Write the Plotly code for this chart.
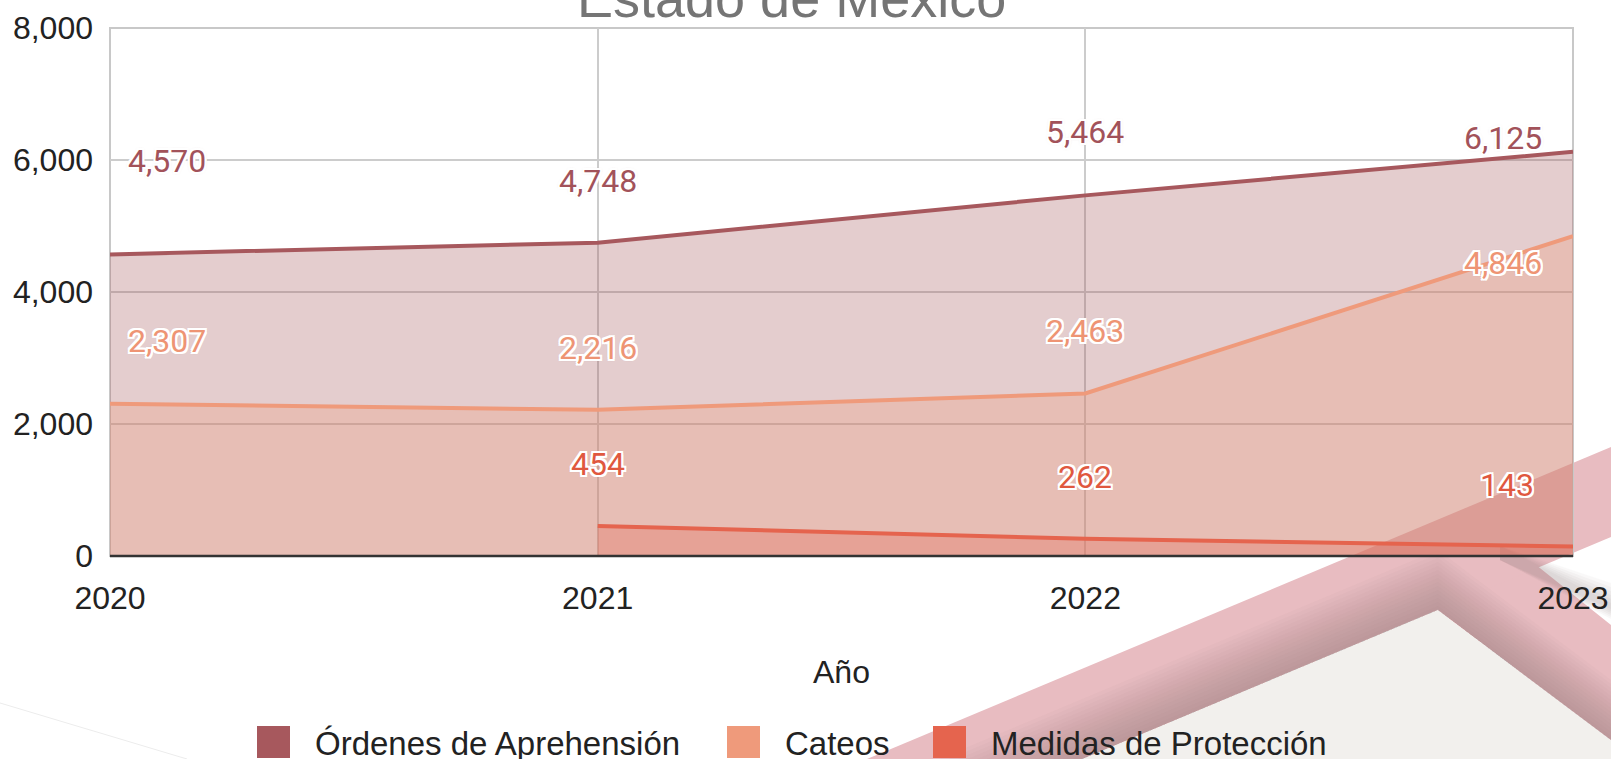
import plotly.graph_objects as go

# ---- data -------------------------------------------------------------
years = [2020, 2021, 2022, 2023]
ordenes = [4570, 4748, 5464, 6125]
cateos = [2307, 2216, 2463, 4846]
medidas = [None, 454, 262, 143]

series_names = ["Órdenes de Aprehensión", "Cateos", "Medidas de Protección"]
series_values = [ordenes, cateos, medidas]
y_ticks = [0, 2000, 4000, 6000, 8000]

# ---- styling ----------------------------------------------------------
line_colors = ["#a7585d", "#ef9a7b", "#e5644e"]
fill_colors = ["rgba(167,88,93,0.30)", "rgba(239,154,123,0.30)", "rgba(229,100,78,0.30)"]
label_colors = ["#a2525a", "#ee9474", "#e0583f"]

# label offsets in screen pixels (x right, y up) per series / year
label_dx = [[57, 0, 0, -70], [57, 0, 0, -70], [0, 0, 0, -66]]
label_dy = [[93, 62, 63, 14], [63, 62, 62, -27], [0, 62, 62, 62]]

AXIS_FONT = "Liberation Sans, Arial, sans-serif"
LABEL_FONT = "Roboto, Arial, sans-serif"
HALO = ("2px 0 0 #fff, -2px 0 0 #fff, 0 2px 0 #fff, 0 -2px 0 #fff, "
        "2px 2px 0 #fff, -2px -2px 0 #fff, 2px -2px 0 #fff, -2px 2px 0 #fff, "
        "0 0 3px rgba(120,60,60,0.6)")

# plot area in pixels
W, H = 1611, 759
L, R, T, B = 110, 1573, 28, 556


def px(x):
    return (x - L) / (R - L)


def py(y):
    return (B - y) / (B - T)


def poly(points):
    return "M " + " L ".join(f"{px(x):.5f},{py(y):.5f}" for x, y in points) + " Z"


fig = go.Figure()

for name, vals, lc, fc in zip(series_names, series_values, line_colors, fill_colors):
    fig.add_trace(go.Scatter(
        x=years, y=vals, name=name, mode="lines",
        line=dict(color=lc, width=4),
        fill="tozeroy", fillcolor=fc,
        showlegend=False, hoverinfo="skip",
    ))

annotations = []
# value labels
for vals, col, dxs, dys in zip(series_values, label_colors, label_dx, label_dy):
    for x, v, dx, dy in zip(years, vals, dxs, dys):
        if v is None:
            continue
        annotations.append(dict(
            x=x, y=v, xref="x", yref="y", text=f"{v:,}", showarrow=False,
            xshift=dx, yshift=dy,
            font=dict(family=LABEL_FONT, size=32, color=col, shadow=HALO),
        ))

# title (partially above the page)
annotations.append(dict(
    x=px(791), y=py(-2), xref="paper", yref="paper", text="Estado de México",
    showarrow=False, xanchor="center", yanchor="middle",
    font=dict(family=AXIS_FONT, size=54, color="#757575"),
))
# x axis title
annotations.append(dict(
    x=0.5, y=py(672), xref="paper", yref="paper", text="Año",
    showarrow=False, xanchor="center", yanchor="middle",
    font=dict(family=AXIS_FONT, size=32, color="#222222"),
))

# legend
legend_swatch_x = [257, 727, 933]
for name, col, sx in zip(series_names, line_colors, legend_swatch_x):
    annotations.append(dict(
        x=px(sx + 56), y=py(743), xref="paper", yref="paper", text=name,
        showarrow=False, xanchor="left", yanchor="middle",
        font=dict(family=AXIS_FONT, size=33, color="#222222"),
    ))

shapes = []
# decorative background bands
pink = "#e8bcc1"
SLOPE = 0.4194
shapes.append(dict(type="path", xref="paper", yref="paper", layer="below",
                   path=poly([(1082, 759), (1438, 610), (1611, 740), (1611, 759)]),
                   fillcolor="#f2f0ed", line=dict(width=0)))
shapes.append(dict(type="path", xref="paper", yref="paper", layer="below",
                   path=poly([(1465, 508), (1611, 625), (1611, 740), (1438, 610)]),
                   fillcolor=pink, line=dict(width=0)))
shapes.append(dict(type="path", xref="paper", yref="paper", layer="below",
                   path=poly([(867, 759), (1611, 447), (1611, 537), (1082, 759)]),
                   fillcolor=pink, line=dict(width=0)))
# soft shading along the inner edges (stacked thin strips give a gradient)
for off in range(60, 0, -4):
    alpha = 0.035
    shapes.append(dict(type="path", xref="paper", yref="paper", layer="below",
                       path=poly([(1082 - off / SLOPE, 759), (1438, 610 - off),
                                  (1438, 610), (1082, 759)]),
                       fillcolor=f"rgba(130,125,125,{alpha})", line=dict(width=0)))
    shapes.append(dict(type="path", xref="paper", yref="paper", layer="below",
                       path=poly([(1438, 610 - off), (1611, 740 - off),
                                  (1611, 740), (1438, 610)]),
                       fillcolor=f"rgba(130,125,125,{alpha})", line=dict(width=0)))
# shadow where the upper band crosses the lower one, right of the frame
for off in range(24, 0, -4):
    shapes.append(dict(type="path", xref="paper", yref="paper", layer="below",
                       path=poly([(1500, 546), (1611, 607 - off), (1611, 607 + off / 2),
                                  (1500, 560)]),
                       fillcolor="rgba(130,125,125,0.05)", line=dict(width=0)))
# faint hairline at the lower left
shapes.append(dict(type="line", xref="paper", yref="paper", layer="below",
                   x0=px(0), y0=py(703), x1=px(187), y1=py(759),
                   line=dict(color="#ececec", width=1)))

# plot frame and baseline
shapes.append(dict(type="rect", xref="paper", yref="paper", layer="below",
                   x0=0, y0=0, x1=1, y1=1, line=dict(color="#c8c8c8", width=2)))
shapes.append(dict(type="line", xref="paper", yref="paper", layer="above",
                   x0=0, y0=0, x1=1, y1=0, line=dict(color="#333333", width=2.5)))

# legend swatches
for col, sx in zip(line_colors, legend_swatch_x):
    shapes.append(dict(type="rect", xref="paper", yref="paper", layer="above",
                       x0=px(sx), x1=px(sx + 33), y0=py(758), y1=py(726),
                       fillcolor=col, line=dict(width=0)))

fig.update_layout(
    width=W, height=H,
    margin=dict(l=L, r=W - R, t=T, b=H - B, pad=0, autoexpand=False),
    paper_bgcolor="white", plot_bgcolor="rgba(0,0,0,0)",
    showlegend=False,
    annotations=annotations,
    shapes=shapes,
    xaxis=dict(
        range=[years[0], years[-1]], tickvals=years, ticktext=[str(y) for y in years],
        showgrid=True, gridcolor="#cccccc", gridwidth=2, zeroline=False, showline=False,
        ticks="", ticklabelstandoff=20, automargin=False,
        tickfont=dict(family=AXIS_FONT, size=32, color="#222222"),
    ),
    yaxis=dict(
        range=[y_ticks[0], y_ticks[-1]], tickvals=y_ticks, ticktext=[f"{v:,}" for v in y_ticks],
        showgrid=True, gridcolor="#cccccc", gridwidth=2, zeroline=False, showline=False,
        ticks="", ticklabelstandoff=16, automargin=False,
        tickfont=dict(family=AXIS_FONT, size=32, color="#222222"),
    ),
)

fig.write_html("out.html")
